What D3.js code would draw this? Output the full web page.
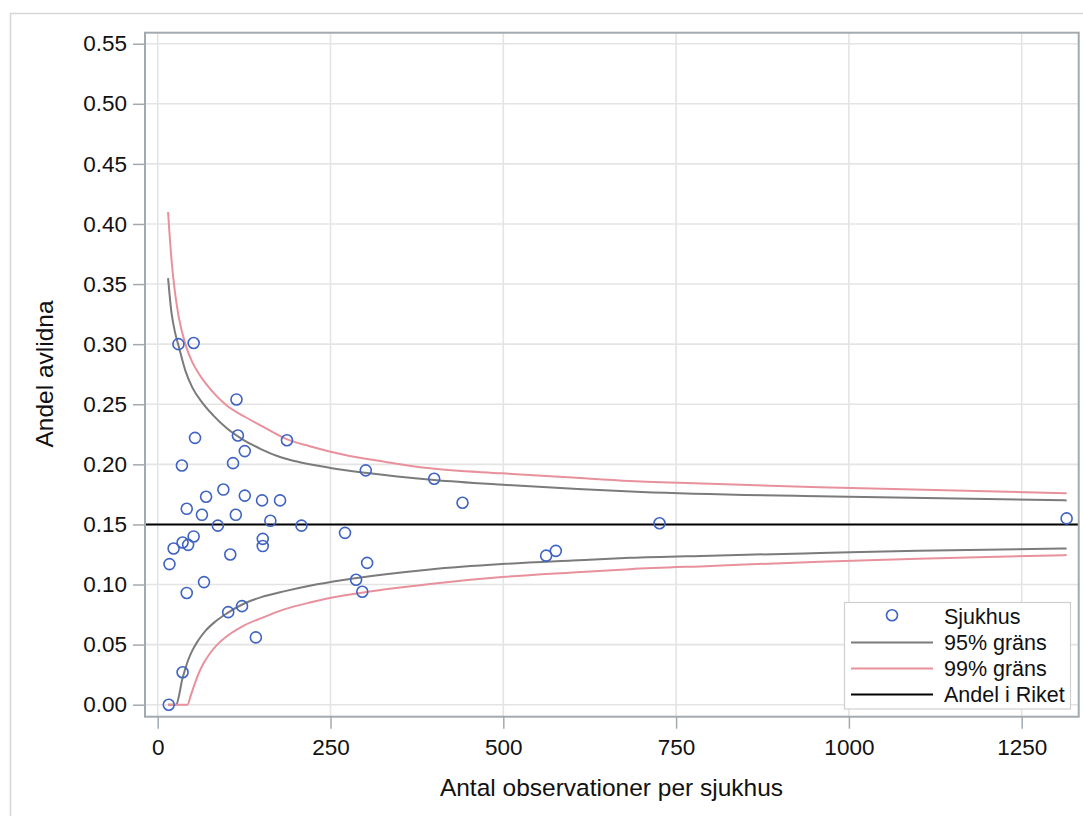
<!DOCTYPE html>
<html>
<head>
<meta charset="utf-8">
<script src="https://cdn.jsdelivr.net/npm/d3@7"></script>
<style>
  body { margin: 0; background: #fff; }
  svg { font-family: "Liberation Sans", Arial, sans-serif; }
</style>
</head>
<body>
<svg width="1083" height="816"></svg>
<script>
// sjukhus: antal observationer och andel avlidna
let hospN = [16, 17, 23, 30, 35, 36, 36, 42, 42, 44, 52, 52, 54, 64, 67, 70, 87, 95, 102, 105,
             109, 113, 114, 116, 122, 126, 126, 142, 151, 152, 152, 163, 177, 187, 208, 271,
             287, 296, 301, 303, 400, 441, 562, 576, 726, 1315];
let hospP = [0.000, 0.117, 0.130, 0.300, 0.199, 0.135, 0.027, 0.093, 0.163, 0.133, 0.140, 0.301,
             0.222, 0.158, 0.102, 0.173, 0.149, 0.179, 0.077, 0.125, 0.201, 0.158, 0.254, 0.224,
             0.082, 0.211, 0.174, 0.056, 0.170, 0.138, 0.132, 0.153, 0.170, 0.220, 0.149, 0.143,
             0.104, 0.094, 0.195, 0.118, 0.188, 0.168, 0.124, 0.128, 0.151, 0.155];

// gränskurvor, avlästa punkter
let up95N = [15, 20, 25, 30, 40, 50, 65, 80, 100, 125, 150, 175, 200, 250, 300, 400, 500, 700, 1000, 1315];
let up95P = [0.355, 0.326, 0.310, 0.299, 0.278, 0.264, 0.251, 0.241, 0.230, 0.220, 0.2125, 0.2065, 0.2025, 0.197, 0.193, 0.187, 0.183, 0.177, 0.173, 0.170];
let up99N = [15, 20, 25, 30, 40, 50, 60, 70, 85, 100, 126, 150, 184, 220, 271, 330, 394, 498, 600, 683, 800, 958, 1315];
let up99P = [0.410, 0.370, 0.343, 0.324, 0.300, 0.285, 0.275, 0.267, 0.257, 0.249, 0.2396, 0.232, 0.2216, 0.215, 0.2077, 0.202, 0.1967, 0.1925, 0.189, 0.1862, 0.1838, 0.1809, 0.176];
let lo95N = [15, 27, 31, 35, 40, 44, 50, 59, 70, 83, 100, 126, 150, 184, 220, 271, 330, 394, 498, 600, 683, 800, 958, 1100, 1315];
let lo95P = [0, 0, 0.008, 0.020, 0.030, 0.037, 0.045, 0.0538, 0.062, 0.069, 0.076, 0.0844, 0.0895, 0.0945, 0.099, 0.104, 0.1085, 0.1125, 0.117, 0.120, 0.1222, 0.124, 0.1262, 0.128, 0.130];
let lo99N = [15, 43, 48, 54, 60, 66, 76, 88, 105, 126, 150, 184, 220, 271, 330, 394, 498, 600, 683, 800, 958, 1100, 1315];
let lo99P = [0, 0, 0.008, 0.018, 0.027, 0.034, 0.043, 0.051, 0.059, 0.0663, 0.072, 0.0795, 0.085, 0.091, 0.096, 0.1005, 0.1062, 0.110, 0.1128, 0.1155, 0.119, 0.1215, 0.1245];

let riket = 0.15;

let xTicks = [0, 250, 500, 750, 1000, 1250];
let yTicks = [0, 0.05, 0.10, 0.15, 0.20, 0.25, 0.30, 0.35, 0.40, 0.45, 0.50, 0.55];

let legendLabels = ['Sjukhus', '95% gräns', '99% gräns', 'Andel i Riket'];

let blue = '#3f63c2', gray = '#7b7b7b', pink = '#e8919c';

let svg = d3.select('svg');

let pLeft = 145, pRight = 1078.7, pTop = 32.7, pBottom = 716.7;
let x = d3.scaleLinear().domain([0, 1250]).range([157.7, 1021.7]);
let y = d3.scaleLinear().domain([0, 0.55]).range([704.7, 43.7]);

// yttre ram
svg.append('path')
    .attr('d', 'M10.5,816 L10.5,13.5 L1083,13.5')
    .attr('fill', 'none').attr('stroke', '#d6d6d6').attr('stroke-width', 1.5);

// rutnät
svg.append('g').selectAll('line').data(yTicks).enter().append('line')
    .attr('x1', pLeft).attr('x2', pRight)
    .attr('y1', d => y(d)).attr('y2', d => y(d))
    .attr('stroke', '#e4e4e4').attr('stroke-width', 1.6);
svg.append('g').selectAll('line').data(xTicks).enter().append('line')
    .attr('y1', pTop).attr('y2', pBottom)
    .attr('x1', d => x(d)).attr('x2', d => x(d))
    .attr('stroke', '#e4e4e4').attr('stroke-width', 1.6);

// axlar
let xAxis = svg.append('g').attr('transform', `translate(0,${pBottom})`)
    .call(d3.axisBottom(x).tickValues(xTicks).tickSize(12).tickPadding(10).tickFormat(d3.format('d')));
let yAxis = svg.append('g').attr('transform', `translate(${pLeft},0)`)
    .call(d3.axisLeft(y).tickValues(yTicks).tickSize(12).tickPadding(6).tickFormat(d3.format('.2f')));
[xAxis, yAxis].forEach(a => {
    a.select('.domain').remove();
    a.selectAll('line').attr('stroke', '#a3aaaf').attr('stroke-width', 1.5);
    a.selectAll('text').attr('fill', '#111').attr('font-size', 22.5).attr('font-family', '"Liberation Sans", Arial, sans-serif');
});

let line = d3.line().x(d => x(d[0])).y(d => y(d[1])).curve(d3.curveMonotoneX);

let curves = [
    [d3.zip(up95N, up95P), gray],
    [d3.zip(lo95N, lo95P), gray],
    [d3.zip(up99N, up99P), pink],
    [d3.zip(lo99N, lo99P), pink]
];
svg.append('g').selectAll('path').data(curves).enter().append('path')
    .attr('d', d => line(d[0]))
    .attr('fill', 'none')
    .attr('stroke', d => d[1])
    .attr('stroke-width', 2);

// riksandel
svg.append('line')
    .attr('x1', pLeft).attr('x2', pRight)
    .attr('y1', y(riket)).attr('y2', y(riket))
    .attr('stroke', '#000').attr('stroke-width', 2);

// sjukhus
svg.append('g').selectAll('circle').data(d3.zip(hospN, hospP)).enter().append('circle')
    .attr('cx', d => x(d[0]))
    .attr('cy', d => y(d[1]))
    .attr('r', 5.5)
    .attr('fill', 'none')
    .attr('stroke', blue)
    .attr('stroke-width', 1.6);

// ram kring plotytan
svg.append('rect')
    .attr('x', pLeft).attr('y', pTop)
    .attr('width', pRight - pLeft).attr('height', pBottom - pTop)
    .attr('fill', 'none').attr('stroke', '#a3aaaf').attr('stroke-width', 2);

// axeltitlar
svg.append('text')
    .attr('x', 611.5).attr('y', 796)
    .attr('text-anchor', 'middle').attr('font-size', 24.5).attr('fill', '#111')
    .text('Antal observationer per sjukhus');
svg.append('text')
    .attr('transform', 'translate(53,374) rotate(-90)')
    .attr('text-anchor', 'middle').attr('font-size', 24.5).attr('fill', '#111')
    .text('Andel avlidna');

// teckenförklaring
let lg = svg.append('g');
lg.append('rect')
    .attr('x', 844.5).attr('y', 602.5).attr('width', 226).attr('height', 106.5)
    .attr('fill', '#fff').attr('stroke', '#cfcfcf').attr('stroke-width', 1.2);
let legendStroke = [null, gray, pink, '#000'];
legendLabels.forEach((t, i) => {
    let cy = 616.7 + i * 25.9;
    if (i == 0) {
        lg.append('circle').attr('cx', 892).attr('cy', cy - 1.5).attr('r', 5.5)
            .attr('fill', 'none').attr('stroke', blue).attr('stroke-width', 1.6);
    } else {
        lg.append('line').attr('x1', 851).attr('x2', 933).attr('y1', cy).attr('y2', cy)
            .attr('stroke', legendStroke[i]).attr('stroke-width', 2);
    }
    lg.append('text').attr('x', 944).attr('y', cy + 7.5)
        .attr('font-size', 21.5).attr('fill', '#111').text(t);
});
</script>
</body>
</html>
